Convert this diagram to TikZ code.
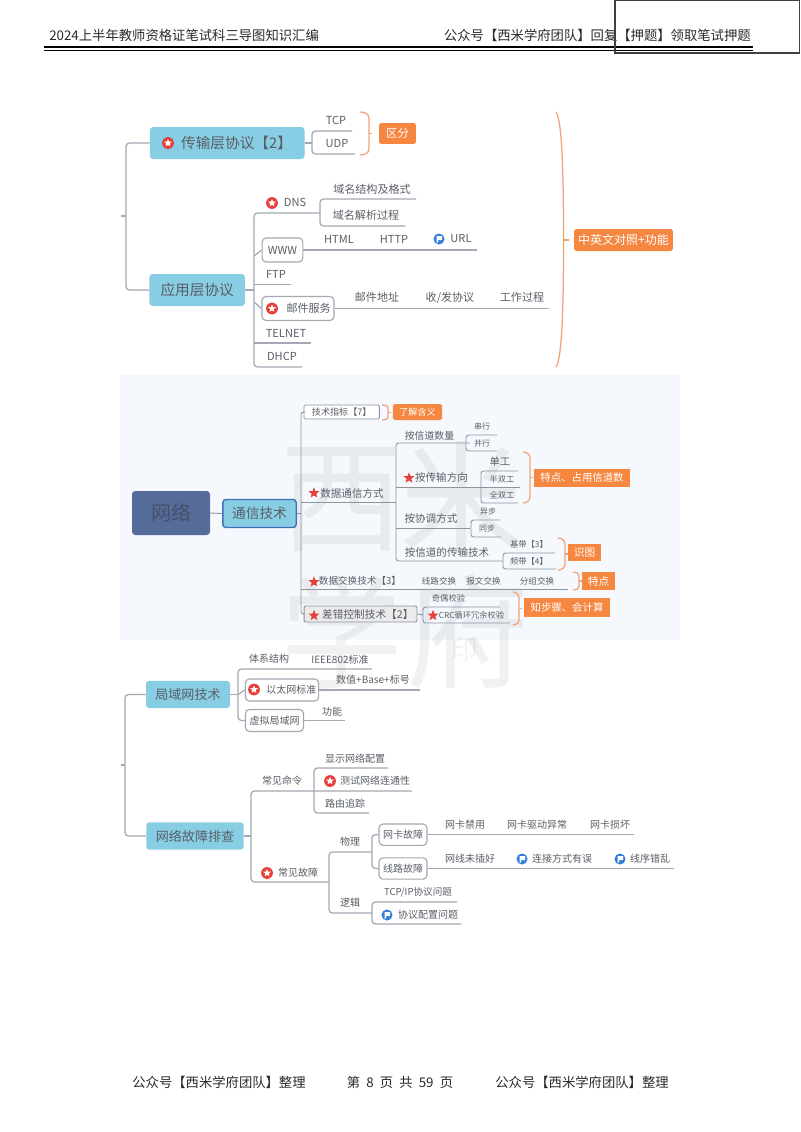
\documentclass[tikz,border=0pt]{standalone}
\usepackage{fontspec}
\setmainfont{Noto Sans CJK SC}
\usetikzlibrary{shapes.geometric}
\definecolor{txtc}{HTML}{5A5F66}
\definecolor{linec}{HTML}{A3A8B2}
\definecolor{plinec}{HTML}{8C949E}
\definecolor{blueb}{HTML}{87CDE3}
\definecolor{orangeb}{HTML}{F58741}
\definecolor{orangel}{HTML}{F3A477}
\definecolor{panelc}{HTML}{F5F9FE}
\definecolor{redi}{HTML}{E5403A}
\definecolor{bluei}{HTML}{2F7FDB}
\definecolor{headc}{HTML}{2A2A2A}
\definecolor{netc}{HTML}{556C9B}
\definecolor{netb}{HTML}{3F6FB8}
\definecolor{nett}{HTML}{46506A}
\tikzset{
  x=0.75pt,y=-0.75pt,
  lab/.style={text=txtc,inner sep=0pt,font=\fontsize{#1}{#1}\selectfont},
  lab/.default=8.3,
  conn/.style={draw=linec,line width=0.95pt,rounded corners=2.6pt},
  pconn/.style={draw=plinec,line width=0.7pt,rounded corners=2pt},
  ob/.style={draw=orangel,line width=0.95pt},
  topic/.style={fill=blueb,rounded corners=2.4pt,inner sep=0pt,text=txtc,font=\fontsize{#1}{#1}\selectfont},
  wbox/.style={draw=linec,line width=0.85pt,rounded corners=3pt,inner sep=0pt,text=txtc,fill=white,font=\fontsize{#1}{#1}\selectfont},
  wbox/.default=8.3,
  org/.style={fill=orangeb,rounded corners=1.8pt,inner sep=0pt,text=white,font=\fontsize{#1}{#1}\selectfont},
  head/.style={text=headc,inner sep=0pt,font=\fontsize{10}{10}\selectfont},
  wmk/.style={text=black,text opacity=0.055,inner sep=0pt,font=\fontsize{92}{92}\selectfont}
}
\newcommand{\ulin}[4][conn]{\coordinate (ua) at (#2,#3);\coordinate (ub) at (#4,#3);\draw[#1] (ua)--(ub);}
\newcommand{\brk}[6][conn]{\coordinate (ba) at (#5,#3);\coordinate (bb) at (#2,#3);\coordinate (bc) at (#2,#4);\coordinate (bd) at (#6,#4);\draw[#1] (ba)--(bb)--(bc)--(bd);}
\newcommand{\obr}[4]{\pgfmathsetmacro{\bm}{(#3+#4)/2}\pgfmathsetmacro{\bh}{min(6,(#4-#3)*0.2)}
 \coordinate (oa) at (#1,#3);\coordinate (ob) at (#2,#3+\bh);\coordinate (oc) at (#2,#4-\bh);\coordinate (od) at (#1,#4);\coordinate (oe) at (#2,\bm);\coordinate (of) at (#2+3,\bm);
 \draw[ob] (oa) to[out=0,in=90] (ob) -- (oc) to[out=-90,in=0] (od);\draw[ob] (oe)--(of);}
\newcommand{\istar}[2]{\fill[redi] (#1,#2) circle (5.9);\node[star,star points=5,star point ratio=2.2,fill=white,inner sep=0pt,minimum size=6pt] (si) at (#1,#2) {};}
\newcommand{\iflag}[2]{\fill[bluei] (#1,#2) circle (5.5);\fill[white] (#1-2.5,#2-3) -- (#1+3,#2-3) -- (#1+3,#2+1) -- (#1-0.8,#2+1) -- (#1-0.8,#2+3.5) -- (#1-2.5,#2+3.5) -- cycle;}
\newcommand{\rstar}[2]{\node[star,star points=5,star point ratio=2.3,fill=redi,inner sep=0pt,minimum size=8.5pt] (rs) at (#1,#2) {};}
\begin{document}
\begin{tikzpicture}
\useasboundingbox (0,0) rectangle (800,1132);
\fill[white] (0,0) rectangle (800,1132);
% header
\node[head,anchor=west] (hl) at (49,35) {2024上半年教师资格证笔试科三导图知识汇编};
\node[head,anchor=east] (hr) at (751,35) {公众号【西米学府团队】回复【押题】领取笔试押题};
\coordinate (l1a) at (44,46.5);\coordinate (l1b) at (753,46.5);
\coordinate (l2a) at (44,50.5);\coordinate (l2b) at (753,50.5);
\draw[black,line width=1.5pt] (l1a)--(l1b);
\draw[black,line width=0.7pt] (l2a)--(l2b);
\coordinate (ra) at (615,0.5);\coordinate (rb) at (799.5,53);
\draw[black!75,line width=0.8pt] (ra) rectangle (rb);
% footer
\node[head] (fl) at (219,1082) {公众号【西米学府团队】整理};
\node[head] (fm) at (400,1082) {第\hspace{4.6pt}8\hspace{4.6pt}页\hspace{4.6pt}共\hspace{4.6pt}59\hspace{4.6pt}页};
\node[head] (fr) at (582,1082) {公众号【西米学府团队】整理};
% panel
\fill[panelc] (120,375) rectangle (680,640);
% watermark
\node[wmk] (w1) at (342,500) {西};
\node[wmk] (w2) at (462,498) {米};
\node[wmk] (w3) at (342,632) {学};
\node[wmk] (w4) at (468,632) {府};
\node[text=black,text opacity=0.05,inner sep=0pt,font=\fontsize{20}{20}\selectfont] (w5) at (465,650) {印};

% ---------- section 1
\coordinate (t1) at (121,216);\coordinate (t2) at (126,216);\draw[conn] (t1)--(t2);
\node[topic=11,minimum width=116pt,minimum height=24pt] (tcp) at (227.2,143) {\hspace{14pt}传输层协议【2】};
\node[topic=11,minimum width=71.6pt,minimum height=24pt] (app) at (197.2,290) {应用层协议};
\coordinate (m1) at (126,143);\coordinate (m2) at (126,290);
\draw[conn] (tcp.west)--(m1)--(m2)--(app.west);
\istar{168}{143}
\coordinate (x1) at (312,143);\draw[conn] (tcp.east)--(x1);
\brk{312}{131}{154}{352}{355}
\node[lab] (n1) at (336,120) {TCP};
\node[lab] (n2) at (337,144) {UDP};
\obr{360}{369}{112}{155}
\node[org=8.5,minimum width=27.7pt,minimum height=15.7pt] (qf) at (397.5,133.5) {区分};
\coordinate (x2) at (254,290);\draw[conn] (app.east)--(x2);
\brk{254}{213}{367}{320}{302}
\istar{272}{203}
\node[lab] (n3) at (295,202.5) {DNS};
\brk{320}{199}{226}{416}{405}
\node[lab] (n4) at (372,189) {域名结构及格式};
\node[lab] (n5) at (366,215) {域名解析过程};
\node[wbox,minimum width=30.5pt,minimum height=18pt] (www) at (282.5,250) {WWW};
\coordinate (x4) at (254,256);\draw[conn] (x4)--(www.west);
\coordinate (x5) at (477,250);\draw[conn] (www.east)--(x5);
\node[lab] (n6) at (339,239) {HTML};
\node[lab] (n7) at (394,239) {HTTP};
\iflag{439}{239}
\node[lab] (n8) at (461,239) {URL};
\node[lab] (n9) at (276,274) {FTP};
\ulin{254}{284.5}{291}
\node[wbox,minimum width=54pt,minimum height=18pt] (mail) at (298,308.5) {\hspace{16pt}邮件服务};
\istar{272}{308.5}
\coordinate (x6) at (254,302);\draw[conn] (x6)--(mail.west);
\coordinate (x7) at (549,308.5);\draw[conn] (mail.east)--(x7);
\node[lab] (n10) at (377,297.5) {邮件地址};
\node[lab] (n11) at (450,297.5) {收/发协议};
\node[lab] (n12) at (522,297.5) {工作过程};
\node[lab] (n13) at (286,333) {TELNET};
\ulin{254}{343}{311}
\node[lab] (n14) at (282,356) {DHCP};
\coordinate (bg1) at (556,112);\coordinate (bg2) at (563.5,240);\coordinate (bg3) at (556,367);\coordinate (bg4) at (569,240);
\draw[ob] (bg1) .. controls (562,120) and (563.5,170) .. (bg2) .. controls (563.5,310) and (562,358) .. (bg3);
\draw[ob] (bg2)--(bg4);
\node[org=9,minimum width=74pt,minimum height=16.5pt] (zy) at (623.5,240) {中英文对照+功能};

% ---------- section 2
\node[fill=netc,rounded corners=2.5pt,inner sep=0pt,text=nett,minimum width=58.5pt,minimum height=33pt,font=\fontsize{15}{15}\selectfont] (net) at (171,513) {网络};
\node[fill=blueb,draw=netb,line width=1pt,rounded corners=2.2pt,inner sep=0pt,text=txtc,minimum width=55pt,minimum height=21pt,font=\fontsize{10.3}{10.3}\selectfont] (com) at (259.5,513.5) {通信技术};
\draw[pconn] (net.east)--(com.west);
\coordinate (c1) at (301,513.5);\draw[pconn] (com.east)--(c1);
\node[fill=white,draw=plinec,line width=0.6pt,rounded corners=1pt,inner sep=0pt,text=txtc,minimum width=56.5pt,minimum height=10.5pt,font=\fontsize{6.8}{6.8}\selectfont] (zb) at (341.7,412) {技术指标【7】};
\node[fill=black!8,draw=plinec,line width=0.7pt,rounded corners=1pt,inner sep=0pt,text=txtc,minimum width=84.7pt,minimum height=12pt,font=\fontsize{8}{8}\selectfont] (cc) at (360.5,614) {\hspace{11pt}差错控制技术【2】};
\coordinate (c2) at (301,412);\coordinate (c3) at (301,614);
\draw[pconn] (zb.west)--(c2)--(c3)--(cc.west);
\obr{382}{388}{405}{420}
\node[org=6.8,minimum width=37pt,minimum height=12pt] (lj) at (417.5,412) {了解含义};
\rstar{314}{493}
\node[lab=7.9] (s1) at (352,493.5) {数据通信方式};
\ulin[pconn]{301}{502}{396}
\brk[pconn]{396}{443}{561}{470}{503}
\node[lab=7.4] (s2) at (429.5,436) {按信道数量};
\brk[pconn]{466}{435}{451}{497}{497}
\node[lab=6] (s3) at (482,426) {串行};
\node[lab=6] (s4) at (482,443) {并行};
\rstar{409}{478}
\node[lab=7.9] (s5) at (441.5,477) {按传输方向};
\ulin[pconn]{396}{487}{520}
\brk[pconn]{481}{471}{503}{518}{518}
\node[lab=7.7] (s6) at (500,462) {单工};
\node[lab=6.2] (s7) at (502,479) {半双工};
\node[lab=6.2] (s8) at (502,495) {全双工};
\obr{523}{530}{452}{503}
\node[org=7.8,minimum width=72pt,minimum height=14pt,rounded corners=0pt] (td) at (582,478) {特点、占用信道数};
\node[lab=7.9] (s9) at (431,518.5) {按协调方式};
\ulin[pconn]{396}{528}{470}
\brk[pconn]{471}{520}{537}{500}{501}
\node[lab=6] (s10) at (488,511) {异步};
\node[lab=6] (s11) at (487,528) {同步};
\node[lab=7.9] (s12) at (447,552) {按信道的传输技术};
\brk[pconn]{503}{553}{569}{555}{556}
\node[lab=6.2] (s13) at (529,544) {基带【3】};
\node[lab=6.2] (s14) at (529,561) {频带【4】};
\obr{558}{565}{538}{570}
\node[org=8,minimum width=24.7pt,minimum height=13pt,rounded corners=0pt] (st) at (584.5,552.5) {识图};
\rstar{314}{582}
\node[lab=7.2] (s15) at (360,581) {数据交换技术【3】};
\ulin[pconn]{301}{589}{568}
\node[lab=6.4] (s16) at (439,581) {线路交换};
\node[lab=6.4] (s17) at (483.5,581) {报文交换};
\node[lab=6.4] (s18) at (537,581) {分组交换};
\obr{573}{579}{572}{590}
\node[org=8,minimum width=25pt,minimum height=14pt,rounded corners=0pt] (tdd) at (598.5,581) {特点};
\rstar{314}{615.5}
\coordinate (c4) at (423,615);\draw[pconn] (cc.east)--(c4);
\brk[pconn]{423}{607}{623}{500}{510}
\node[lab=6.2] (s19) at (448.5,598) {奇偶校验};
\rstar{433}{615.5}
\node[lab=6.2] (s20) at (471.5,615) {CRC循环冗余校验};
\obr{513}{519}{592}{625}
\node[org=7.8,minimum width=64.5pt,minimum height=14.5pt,rounded corners=0pt] (zz) at (567,607.5) {知步骤、会计算};

% ---------- section 3
\node[topic=9.8,minimum width=63pt,minimum height=20.5pt] (lan) at (188,694.5) {局域网技术};
\node[topic=9.8,minimum width=73pt,minimum height=20.5pt] (fault) at (195,836) {网络故障排查};
\coordinate (l1) at (125,694.5);\coordinate (l2) at (125,836);\draw[conn] (lan.west)--(l1)--(l2)--(fault.west);
\coordinate (l3) at (121,765);\coordinate (l4) at (125,765);\draw[conn] (l3)--(l4);
\coordinate (x8) at (238,694.5);\draw[conn] (lan.east)--(x8);
\brk{238}{669}{720.5}{372}{245.5}
\node[lab=7.5] (k1) at (269,659) {体系结构};
\node[lab=7.5] (k2) at (340,659.5) {IEEE802标准};
\node[wbox=7.5,minimum width=55pt,minimum height=16.5pt] (eth) at (282,690) {\hspace{14pt}以太网标准};
\istar{254}{689.5}
\coordinate (x9) at (420,690);\draw[conn] (eth.east)--(x9);
\node[lab=7.5] (k3) at (373,680) {数值+Base+标号};
\coordinate (x10) at (238,694.5);\draw[conn] (x10)--(eth.west);
\node[wbox=7.5,minimum width=43.5pt,minimum height=16.5pt] (vlan) at (274.5,720.5) {虚拟局域网};
\coordinate (x11) at (345,720.5);\draw[conn] (vlan.east)--(x11);
\node[lab=7.5] (k4) at (332,711.5) {功能};
\coordinate (x12) at (251,836);\draw[conn] (fault.east)--(x12);
\brk{251}{791}{882}{412}{329}
\node[lab=7.5] (k5) at (282,781) {常见命令};
\brk{314}{768}{813}{388}{369}
\node[lab=7.5] (k6) at (355,758.5) {显示网络配置};
\istar{330}{781}
\node[lab=7.5] (k7) at (375,781) {测试网络连通性};
\node[lab=7.5] (k8) at (345,804) {路由追踪};
\istar{267}{873}
\node[lab=7.5] (k9) at (298,873) {常见故障};
\brk{329}{852}{913}{372}{372}
\node[lab=7.5] (k10) at (350,841.5) {物理};
\node[lab=7.5] (k11) at (350,903) {逻辑};
\node[wbox=7.5,minimum width=36pt,minimum height=16pt] (nic) at (403,834.7) {网卡故障};
\node[wbox=7.5,minimum width=36pt,minimum height=16pt] (lin) at (403,868.5) {线路故障};
\coordinate (x14) at (372,834.7);\coordinate (x15) at (372,868.5);
\draw[conn] (nic.west)--(x14)--(x15)--(lin.west);
\coordinate (x16) at (634,834.7);\draw[conn] (nic.east)--(x16);
\coordinate (x17) at (674,868.5);\draw[conn] (lin.east)--(x17);
\node[lab=7.5] (k12) at (465,825) {网卡禁用};
\node[lab=7.5] (k13) at (537,825) {网卡驱动异常};
\node[lab=7.5] (k14) at (610,825) {网卡损坏};
\node[lab=7.5] (k15) at (470,859) {网线未插好};
\iflag{522}{859}
\node[lab=7.5] (k16) at (562,859) {连接方式有误};
\iflag{620}{859}
\node[lab=7.5] (k17) at (650,859) {线序错乱};
\brk{372}{902}{924}{457}{461}
\node[lab=7.2] (k18) at (418,892) {TCP/IP协议问题};
\iflag{387}{915}
\node[lab=7.5] (k19) at (428,915) {协议配置问题};
\end{tikzpicture}
\end{document}
